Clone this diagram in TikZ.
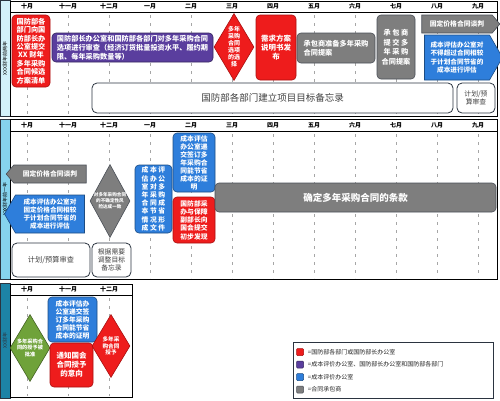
\documentclass[tikz,border=0pt]{standalone}
\usepackage{fontspec}
\setmainfont{Noto Sans CJK SC}
\XeTeXlinebreaklocale "zh"
\XeTeXlinebreakskip=0pt plus 1pt
\usepackage{tikz}
\usetikzlibrary{positioning,shapes.geometric,shapes.symbols}
\definecolor{PlanRed}{HTML}{EE1C1C}
\definecolor{PlanRedDark}{HTML}{A81010}
\definecolor{PlanPurple}{HTML}{5A3E9E}
\definecolor{PlanBlue}{HTML}{2E7EDB}
\definecolor{PlanGray}{HTML}{7E7E7E}
\definecolor{PlanGrayDark}{HTML}{4A4F57}
\definecolor{PlanGreen}{HTML}{6FA23A}
\definecolor{PlanFrame}{HTML}{2B3440}
\definecolor{StripA}{HTML}{D3F1FA}
\definecolor{StripB}{HTML}{86D3EE}
\definecolor{StripC}{HTML}{1D83A6}
\newcommand{\fsz}[2]{\fontsize{#1pt}{#2pt}\selectfont}

\begin{document}
\begin{tikzpicture}[x=1pt,y=-1pt,
  strip/.style={draw=PlanFrame,line width=0.5pt,rotate=90,minimum height=10pt,inner sep=0pt,font=\fsz{5}{6}},
  frame/.style={draw=black,line width=0.8pt},
  month/.style={font=\fsz{6}{7}\bfseries,text=black,inner sep=0pt},
  gridline/.style={draw=gray!70,dash pattern=on 3pt off 5pt,line width=0.6pt},
  card/.style={rounded corners=4pt,align=center,inner sep=1pt,text=white,line width=0.6pt},
  redbox/.style={card,fill=PlanRed,draw=PlanRedDark},
  purplebox/.style={card,fill=PlanPurple,draw=PlanPurple!60!black},
  bluebox/.style={card,fill=PlanBlue,draw=PlanBlue!60!black},
  greybox/.style={card,fill=PlanGray,draw=PlanGrayDark},
  memobox/.style={rounded corners=5pt,draw=PlanFrame,line width=0.8pt,fill=white,align=center,inner sep=1pt,text=black!75},
  gate/.style={diamond,minimum width=40pt,minimum height=67pt,inner sep=0pt,line width=0.6pt},
  dtext/.style={text=white,align=center,inner sep=0pt},
  arrowbox/.style={signal,signal pointer angle=100,align=center,inner sep=1pt,text=white,line width=0.6pt},
  legkey/.style={minimum size=7pt,inner sep=0pt,rounded corners=1pt,line width=0.5pt},
  legtext/.style={font=\fsz{6}{7},inner sep=1pt,text=black!85,anchor=west}
]
\useasboundingbox (0,0) rectangle (500,400);

% panels and month grid
\node[strip,fill=StripA,minimum width=116pt] (stripA) at (5,58.5) {XXX财年前两年};
\node[strip,fill=StripB,minimum width=160pt] (stripB) at (5,199) {XXX财年前一年};
\node[strip,fill=StripC,minimum width=115pt,text=PlanFrame] (stripC) at (5,340.5) {XX财年};
\draw[frame] (10,1) rectangle (497,116);
\draw[frame] (10,12) -- (497,12);
\draw[frame] (10,119) rectangle (497,279);
\draw[frame] (10,131) -- (497,131);
\draw[frame] (10,284) rectangle (132,397);
\draw[frame] (10,295) -- (132,295);
\foreach \m [count=\i from 0] in {十月,十一月,十二月,一月,二月,三月,四月,五月,六月,七月,八月,九月}{
  \node[month] (ma\i) at ({27+41*\i},6.5) {\m};
  \draw[gridline] ({27+41*\i},15) -- ({27+41*\i},115);
  \node[month] (mb\i) at ({27+41*\i},125.5) {\m};
  \draw[gridline] ({27+41*\i},134) -- ({27+41*\i},278);
}
\foreach \m [count=\i from 0] in {十月,十一月,十二月}{
  \node[month] (mc\i) at ({27+41*\i},289.5) {\m};
  \draw[gridline] ({27+41*\i},298) -- ({27+41*\i},396);
}

% first panel
\node[redbox,minimum width=38pt,minimum height=72pt,font=\fsz{7.2}{8.4}\bfseries] (listA) at (31,51) {国防部各\\部门向国\\防部长办\\公室提交\\XX 财年\\多年采购\\合同候选\\方案清单};
\node[purplebox,minimum width=161pt,minimum height=29pt,align=left,font=\fsz{7.2}{8.8}\bfseries] (review) at (132.5,47.5) {国防部长办公室和国防部各部门对多年采购合同\\选项进行审查（经济订货批量投资水平、履约期\\限、每年采购数量等）};
\node[gate,fill=PlanRed,draw=PlanRedDark,label={[dtext,font=\fsz{6}{7}\bfseries]center:{多年\\采购\\合同\\选项\\的选\\择}}] (choose) at (234,47) {};
\node[redbox,minimum width=40pt,minimum height=65pt,font=\fsz{7.5}{9}\bfseries] (rfp) at (276,47.5) {需求方案\\说明书发\\布};
\node[greybox,minimum width=78pt,minimum height=30pt,align=left,font=\fsz{7.2}{8.8}\bfseries] (prepare) at (336,48) {承包商准备多年采购\\合同提案};
\node[greybox,minimum width=38pt,minimum height=64pt,font=\fsz{7.2}{9.5}\bfseries] (submit) at (396,47) {承 包 商\\提 交 多\\年 采 购\\合同提案};
\node[arrowbox,signal to=east,fill=PlanGray,draw=PlanGrayDark,minimum width=78pt,minimum height=18pt,font=\fsz{6.8}{7.5}\bfseries] (talksA) at (457,24) {固定价格合同谈判};
\node[arrowbox,signal to=east,signal pointer angle=120,fill=PlanBlue,draw=PlanBlue!60!black,minimum width=78pt,minimum height=45pt,font=\fsz{6.6}{8.2}\bfseries] (costA) at (457,57.5) {成本评估办公室对\\不得超过合同相较\\于计划合同节省的\\成本进行评估};
\node[memobox,minimum width=361pt,minimum height=30pt,font=\fsz{9.5}{11}] (memoA) at (272.5,98) {国防部各部门建立项目目标备忘录};
\node[memobox,minimum width=38pt,minimum height=30pt,font=\fsz{6.8}{8.2}] (budgetA) at (476,98) {计划/预\\算审查};

% second panel
\node[arrowbox,signal to=west,fill=PlanGray,draw=PlanGrayDark,minimum width=80pt,minimum height=18pt,font=\fsz{6.8}{7.5}\bfseries] (talksB) at (50,174) {固定价格合同谈判};
\node[arrowbox,signal to=west,signal pointer angle=120,fill=PlanBlue,draw=PlanBlue!60!black,minimum width=80pt,minimum height=38pt,font=\fsz{6.6}{8.2}\bfseries] (costB) at (50,214) {成本评估办公室对\\固定价格合同相较\\于计划合同节省的\\成本进行评估};
\node[gate,minimum height=73pt,fill=PlanGray,draw=PlanGrayDark,label={[dtext,font=\fsz{4.6}{5.8}\bfseries]center:{对多年采购合同\\的不确定性风\\险达成一致}}] (risk) at (110,201) {};
\node[bluebox,minimum width=37pt,minimum height=68pt,font=\fsz{6.8}{8.2}\bfseries] (savings) at (153.5,199) {成 本 评\\估 办 公\\室 对 多\\年 采 购\\合 同 成\\本 节 省\\情 况 形\\成 文 件};
\node[bluebox,minimum width=42pt,minimum height=59pt,font=\fsz{6.8}{8}\bfseries] (proofB) at (194,162.5) {成本评估\\办公室递\\交签订多\\年采购合\\同能节省\\成本的证\\明};
\node[redbox,minimum width=42pt,minimum height=46pt,font=\fsz{6.8}{8.2}\bfseries] (notice) at (194,220) {国防部采\\办与保障\\副部长向\\国会提交\\初步发现};
\node[greybox,minimum width=281pt,minimum height=29pt,font=\fsz{9.5}{11}\bfseries] (terms) at (355.5,197.5) {确定多年采购合同的条款};
\node[memobox,minimum width=78pt,minimum height=34pt,font=\fsz{7.2}{8.5}] (budgetB) at (51,260) {计划/预算审查};
\node[memobox,minimum width=39pt,minimum height=34pt,font=\fsz{6.8}{8.2}] (memoB) at (111.5,260) {根据需要\\调整目标\\备忘录};

% third panel
\node[gate,fill=PlanGreen,draw=PlanGreen!60!black,label={[dtext,font=\fsz{5.2}{6.4}\bfseries]center:{多年采购合\\同的授予被\\批准}}] (approve) at (30,348) {};
\node[bluebox,minimum width=49pt,minimum height=45pt,font=\fsz{6.8}{8}\bfseries] (proofC) at (72.5,319.5) {成本评估办\\公室递交签\\订多年采购\\合同能节省\\成本的证明};
\node[redbox,minimum width=43pt,minimum height=44pt,font=\fsz{7.5}{9}\bfseries] (intent) at (71.5,365) {通知国会\\合同授予\\的意向};
\node[gate,minimum width=38pt,minimum height=63pt,fill=PlanRed,draw=PlanRedDark,label={[dtext,font=\fsz{5.6}{6.8}\bfseries]center:{多年采\\购合同\\授予}}] (award) at (111,346) {};

% legend
\draw[draw=PlanFrame,line width=0.6pt,fill=white] (293,342) rectangle (493,398);
\node[legkey,fill=PlanRed,draw=PlanRedDark] (keyA) at (300,352) {};
\node[legtext,right=3pt of keyA] (txtA) {=国防部各部门或国防部长办公室};
\node[legkey,fill=PlanPurple,draw=PlanPurple!60!black,below=5pt of keyA] (keyB) {};
\node[legtext,right=3pt of keyB] (txtB) {=成本评价办公室、国防部长办公室和国防部各部门};
\node[legkey,fill=PlanBlue,draw=PlanBlue!60!black,below=5pt of keyB] (keyC) {};
\node[legtext,right=3pt of keyC] (txtC) {=成本评价办公室};
\node[legkey,fill=PlanGray,draw=PlanGrayDark,below=5pt of keyC] (keyD) {};
\node[legtext,right=3pt of keyD] (txtD) {=合同承包商};
\end{tikzpicture}
\end{document}
